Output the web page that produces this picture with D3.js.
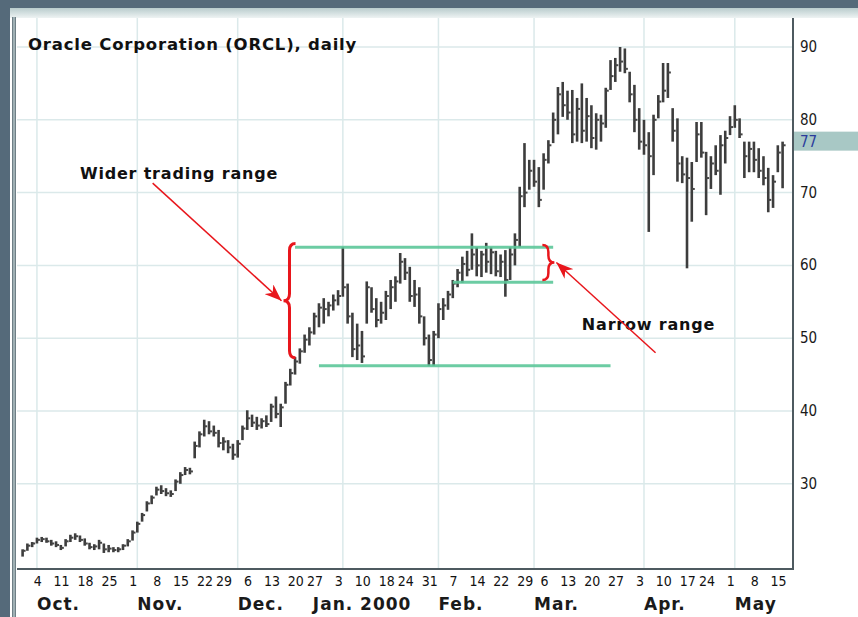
<!DOCTYPE html>
<meta charset="utf-8" />
<style>
  body { margin: 0; background: #556a7a; }
  svg { display: block; }
</style>
<svg width="858" height="617"></svg>
<script src="https://d3js.org/d3.v7.min.js"></script>
<script>
    // ---- data ----
    var startDay = "1999-09-28";
    var endDay = "2000-05-15";
    var holidays = ["1999-11-25", "1999-12-24", "2000-01-17", "2000-02-21", "2000-04-21"];

    var lows = [
        20.0, 20.8, 21.3, 21.8, 22.0, 21.9, 21.5, 21.3, 20.9, 21.4,
        22.0, 22.3, 22.0, 21.5, 21.0, 20.9, 21.0, 20.5, 20.6, 20.6,
        20.6, 20.9, 21.4, 22.2, 23.3, 24.8, 26.2, 27.2, 28.4, 28.6,
        28.3, 28.2, 29.0, 30.0, 31.2, 31.3, 33.5, 35.0, 36.5, 36.8,
        36.5, 35.0, 34.6, 34.2, 33.3, 33.6, 36.0, 37.4, 37.8, 37.4,
        37.6, 37.8, 38.5, 39.0, 37.8, 41.0, 43.5, 45.0, 46.5, 48.0,
        49.0, 50.5, 51.5, 52.0, 53.0, 53.8, 54.5, 55.7, 52.0, 47.4,
        47.0, 46.6, 52.0, 53.5, 51.5, 52.0, 52.5, 54.0, 55.0, 57.5,
        58.0, 55.0, 54.3, 52.0, 49.0, 46.2, 46.2, 50.0, 52.5, 53.9,
        55.5, 57.0, 57.6, 58.5, 59.4, 58.5, 58.4, 59.0, 58.8, 58.5,
        58.4, 55.7, 58.0, 60.0, 62.5, 68.0, 70.4, 70.8, 68.0, 70.4,
        74.0, 76.8, 78.0, 80.4, 80.0, 76.8, 77.0, 76.8, 77.0, 76.1,
        75.9, 77.0, 78.9, 84.1, 85.2, 86.6, 86.4, 82.4, 78.3, 75.9,
        75.2, 64.6, 72.4, 80.2, 82.4, 83.0, 77.0, 71.5, 71.3, 59.6,
        66.0, 74.2, 74.8, 66.9, 70.5, 72.4, 69.7, 74.0, 77.9, 78.9,
        77.5, 72.0, 72.8, 72.8, 72.0, 71.0, 67.3, 67.9, 72.8, 70.6
    ];
    var highs = [
        21.0, 21.8, 22.0, 22.6, 22.7, 22.6, 22.3, 22.1, 21.6, 22.4,
        23.0, 23.2, 22.9, 22.5, 21.9, 21.7, 22.3, 21.8, 21.6, 21.3,
        21.3, 21.7, 22.4, 23.6, 24.8, 26.0, 27.6, 28.4, 29.6, 29.8,
        29.4, 29.1, 30.6, 31.6, 32.3, 32.2, 35.8, 37.2, 38.8, 38.6,
        38.0, 37.4, 36.4, 36.0, 35.5, 36.0, 38.0, 40.1, 39.5, 39.2,
        39.0, 39.4, 41.0, 42.0, 41.0, 44.0, 45.8, 47.4, 48.6, 50.5,
        51.5, 53.5, 54.8, 55.5, 55.0, 56.0, 56.6, 62.5, 57.5, 53.5,
        52.0, 51.0, 57.8, 57.0, 55.5, 55.0, 56.5, 58.0, 58.5, 61.7,
        61.0, 59.8, 58.0, 57.0, 53.0, 50.5, 51.0, 54.8, 55.5, 56.5,
        58.0, 59.5, 61.2, 62.0, 64.4, 62.5, 62.0, 63.1, 62.5, 62.0,
        61.5, 62.1, 62.5, 64.4, 70.8, 76.8, 74.5, 74.5, 73.5, 75.4,
        77.2, 81.0, 84.5, 85.2, 84.0, 84.1, 83.0, 85.0, 83.0, 82.0,
        80.9, 80.7, 84.4, 88.2, 88.5, 90.0, 89.8, 86.6, 84.8, 81.6,
        80.0, 78.3, 80.7, 83.4, 87.8, 87.8, 81.6, 80.2, 75.0, 74.8,
        74.2, 79.7, 79.7, 75.6, 75.0, 76.5, 77.9, 78.5, 80.5, 82.0,
        80.2, 77.0, 77.0, 77.0, 76.1, 75.0, 73.4, 72.4, 76.5, 77.0
    ];
    var closes = [
        20.8, 21.5, 21.8, 22.3, 22.4, 22.1, 21.8, 21.6, 21.2, 22.1,
        22.6, 22.8, 22.3, 21.8, 21.3, 21.4, 21.9, 21.0, 21.1, 20.9,
        21.0, 21.5, 22.1, 23.3, 24.5, 25.7, 27.3, 28.1, 29.2, 29.0,
        28.7, 28.6, 30.3, 31.2, 31.9, 31.7, 35.2, 36.8, 37.9, 37.2,
        37.0, 35.6, 35.8, 35.0, 34.0, 35.5, 37.6, 39.0, 38.4, 38.0,
        38.6, 38.2, 40.6, 39.6, 40.5, 43.6, 45.2, 46.8, 48.2, 49.8,
        50.8, 53.0, 54.2, 54.0, 54.5, 55.2, 55.8, 57.0, 53.0, 48.5,
        49.0, 47.5, 57.0, 54.0, 52.5, 53.5, 55.8, 57.0, 57.8, 60.5,
        59.0, 55.8, 56.0, 53.0, 50.0, 47.0, 50.5, 54.0, 54.5, 56.0,
        57.5, 59.0, 60.2, 59.4, 61.5, 60.0, 61.5, 60.5, 61.8, 59.2,
        60.5, 58.0, 61.5, 63.5, 69.5, 70.0, 73.0, 71.5, 69.0, 74.5,
        76.5, 80.0, 83.5, 82.0, 81.0, 78.0, 81.5, 78.5, 80.5, 77.5,
        80.0, 79.5, 84.0, 86.0, 87.5, 88.0, 87.0, 83.5, 80.0, 77.0,
        76.5, 75.0, 80.0, 82.5, 84.0, 86.5, 78.5, 74.0, 72.5, 72.0,
        70.5, 78.0, 75.5, 72.0, 74.0, 73.0, 76.5, 77.5, 79.0, 80.0,
        78.0, 75.0, 76.0, 74.5, 73.0, 72.0, 69.0, 71.5, 75.5, 76.5
    ];

    var yTicks = [30, 40, 50, 60, 70, 80, 90];
    var lastPrice = 77;

    var weekTicks = [
        "1999-10-04", "1999-10-11", "1999-10-18", "1999-10-25", "1999-11-01", "1999-11-08",
        "1999-11-15", "1999-11-22", "1999-11-29", "1999-12-06", "1999-12-13", "1999-12-20",
        "1999-12-27", "2000-01-03", "2000-01-10", "2000-01-18", "2000-01-24", "2000-01-31",
        "2000-02-07", "2000-02-14", "2000-02-22", "2000-02-29", "2000-03-06", "2000-03-13",
        "2000-03-20", "2000-03-27", "2000-04-03", "2000-04-10", "2000-04-17", "2000-04-24",
        "2000-05-01", "2000-05-08", "2000-05-15"
    ];
    var monthStarts = ["1999-10-01", "1999-11-01", "1999-12-01", "2000-01-03", "2000-02-01",
                       "2000-03-01", "2000-04-03", "2000-05-01"];
    var monthLabels = ["Oct.", "Nov.", "Dec.", "Jan. 2000", "Feb.", "Mar.", "Apr.", "May"];

    // support / resistance lines: price level, from day, to day
    var rangeLines = [
        { level: 62.5, from: "1999-12-17", to: "2000-03-07" },
        { level: 57.7, from: "2000-02-04", to: "2000-03-07" },
        { level: 46.2, from: "1999-12-27", to: "2000-03-23" }
    ];

    // ---- trading calendar ----
    var fmt = d3.timeFormat("%Y-%m-%d");
    var parse = d3.timeParse("%Y-%m-%d");
    var days = d3.timeDay.range(parse(startDay), d3.timeDay.offset(parse(endDay), 1))
        .filter(function(d) { return d.getDay() > 0 && d.getDay() < 6 && holidays.indexOf(fmt(d)) < 0; })
        .map(fmt);
    function idx(s) { return days.indexOf(s); }

    var bars = days.map(function(d, i) {
        return { day: d, i: i, low: lows[i], high: highs[i], close: closes[i] };
    });

    // ---- layout ----
    var svg = d3.select("svg");
    var width = +svg.attr("width");
    var height = +svg.attr("height");
    var plot = { left: 17, right: 793, top: 18, bottom: 569 };

    var x = d3.scaleLinear().domain([0, days.length - 1]).range([22.6, 782.6]);
    var y = d3.scaleLinear().domain([20, 90]).range([556.6, 47]);

    // frame
    svg.append("rect").attr("x", 10).attr("y", 8).attr("width", width - 10).attr("height", height - 8)
        .attr("fill", "#ffffff");
    var grad = svg.append("defs").append("linearGradient").attr("id", "topband")
        .attr("x1", 0).attr("y1", 0).attr("x2", 0).attr("y2", 1);
    grad.append("stop").attr("offset", "0%").attr("stop-color", "#b9cccd");
    grad.append("stop").attr("offset", "100%").attr("stop-color", "#eef3f3");
    svg.append("rect").attr("x", 10).attr("y", 8).attr("width", width - 10).attr("height", 10)
        .attr("fill", "url(#topband)");
    svg.append("rect").attr("x", 12).attr("y", 17).attr("width", 4).attr("height", height - 17)
        .attr("fill", "#6f7f86");
    svg.append("rect").attr("x", 13).attr("y", 17).attr("width", 2).attr("height", height - 17)
        .attr("fill", "#9fb0b4");

    // grid
    svg.append("g").selectAll("line").data(yTicks).enter().append("line")
        .attr("x1", plot.left).attr("x2", plot.right)
        .attr("y1", function(d) { return y(d); }).attr("y2", function(d) { return y(d); })
        .attr("stroke", "#dbe9ea").attr("stroke-width", 1.5);
    svg.append("g").selectAll("line").data(monthStarts).enter().append("line")
        .attr("x1", function(d) { return x(idx(d)); }).attr("x2", function(d) { return x(idx(d)); })
        .attr("y1", plot.top).attr("y2", plot.bottom)
        .attr("stroke", "#dbe9ea").attr("stroke-width", 1.5);

    // last price band
    svg.append("rect").attr("x", plot.right).attr("y", y(lastPrice) - 10)
        .attr("width", width - plot.right).attr("height", 19).attr("fill", "#a8c8c5");

    // price bars
    var barG = svg.append("g");
    barG.selectAll("line.hl").data(bars).enter().append("line")
        .attr("class", "hl")
        .attr("x1", function(d) { return x(d.i); }).attr("x2", function(d) { return x(d.i); })
        .attr("y1", function(d) { return y(d.high); }).attr("y2", function(d) { return y(d.low); })
        .attr("stroke", "#3d3d3d").attr("stroke-width", 2.6);
    barG.selectAll("line.cl").data(bars).enter().append("line")
        .attr("class", "cl")
        .attr("x1", function(d) { return x(d.i); }).attr("x2", function(d) { return x(d.i) + 3; })
        .attr("y1", function(d) { return y(d.close); }).attr("y2", function(d) { return y(d.close); })
        .attr("stroke", "#444").attr("stroke-width", 2);

    // range lines
    svg.append("g").selectAll("line").data(rangeLines).enter().append("line")
        .attr("x1", function(d) { return x(idx(d.from)); }).attr("x2", function(d) { return x(idx(d.to)); })
        .attr("y1", function(d) { return y(d.level); }).attr("y2", function(d) { return y(d.level); })
        .attr("stroke", "#5cc699").attr("stroke-width", 3).attr("stroke-opacity", 0.9);

    // axes lines
    svg.append("line").attr("x1", plot.right).attr("x2", plot.right).attr("y1", plot.top).attr("y2", plot.bottom + 1)
        .attr("stroke", "#4e5a60").attr("stroke-width", 2);
    svg.append("line").attr("x1", plot.left).attr("x2", plot.right).attr("y1", plot.bottom).attr("y2", plot.bottom)
        .attr("stroke", "#4e5a60").attr("stroke-width", 2);

    var narrow = "'Liberation Sans Narrow', 'Arial Narrow', 'DejaVu Sans Condensed', sans-serif";
    var sans = "'DejaVu Sans', Verdana, sans-serif";

    // y labels
    svg.append("g").selectAll("text").data(yTicks).enter().append("text")
        .attr("x", plot.right + 7).attr("y", function(d) { return y(d) + 5; })
        .attr("font-family", narrow).attr("font-size", 15).attr("fill", "#1a1a1a")
        .text(function(d) { return d; });
    svg.append("text").attr("x", plot.right + 7).attr("y", y(lastPrice) + 5)
        .attr("font-family", narrow).attr("font-size", 15).attr("fill", "#2a3b9c")
        .text(lastPrice);

    // week labels
    svg.append("g").selectAll("text").data(weekTicks).enter().append("text")
        .attr("x", function(d) { return x(idx(d)) - 4; }).attr("y", 586)
        .attr("text-anchor", "middle")
        .attr("font-family", narrow).attr("font-size", 14).attr("fill", "#111")
        .text(function(d) { return +d.slice(8); });

    // month labels
    svg.append("g").selectAll("text").data(monthStarts).enter().append("text")
        .attr("x", function(d, i) { return x(idx(d)) - (monthLabels[i].length > 4 ? 30 : 0); })
        .attr("y", 610)
        .attr("font-family", sans).attr("font-size", 17).attr("letter-spacing", 1)
        .attr("font-weight", "bold").attr("fill", "#1a1a1a")
        .text(function(d, i) { return monthLabels[i]; });

    // title
    svg.append("text").attr("x", 28).attr("y", 50)
        .attr("font-family", sans).attr("font-size", 16.5).attr("letter-spacing", 0.8)
        .attr("font-weight", "bold").attr("fill", "#111")
        .text("Oracle Corporation (ORCL), daily");

    // ---- annotations ----
    var red = "#e8161c";
    svg.append("defs").append("marker").attr("id", "head")
        .attr("viewBox", "0 0 10 10").attr("refX", 10).attr("refY", 5)
        .attr("markerWidth", 17).attr("markerHeight", 13).attr("orient", "auto")
        .attr("markerUnits", "userSpaceOnUse").attr("preserveAspectRatio", "none")
        .append("path").attr("d", "M0,0 L10,5 L0,10 L3,5 Z").attr("fill", red);

    function brace(xs, yTop, yBot, dir) {
        // dir -1: "{" tip to the left, +1: "}" tip to the right
        var w = 6 * dir, ym = (yTop + yBot) / 2;
        var p = d3.path();
        p.moveTo(xs - w, yTop);
        p.quadraticCurveTo(xs, yTop, xs, yTop + 7);
        p.lineTo(xs, ym - 7);
        p.quadraticCurveTo(xs, ym, xs + w, ym);
        p.quadraticCurveTo(xs, ym, xs, ym + 7);
        p.lineTo(xs, yBot - 7);
        p.quadraticCurveTo(xs, yBot, xs - w, yBot);
        return p.toString();
    }
    var wideTop = 63.0, wideBot = 47.3, narrowTop = 62.8, narrowBot = 58.0;
    var wideX = x(idx("1999-12-15")) + 4, narrowX = x(idx("2000-03-06"));
    svg.append("path").attr("d", brace(wideX, y(wideTop), y(wideBot), -1))
        .attr("fill", "none").attr("stroke", red).attr("stroke-width", 3);
    svg.append("path").attr("d", brace(narrowX, y(narrowTop), y(narrowBot), 1))
        .attr("fill", "none").attr("stroke", red).attr("stroke-width", 2.5);

    svg.append("text").attr("x", x(idx("1999-10-14"))).attr("y", y(71.8))
        .attr("font-family", sans).attr("font-size", 16).attr("letter-spacing", 0.8)
        .attr("font-weight", "bold").attr("fill", "#111")
        .text("Wider trading range");
    svg.append("text").attr("x", x(idx("2000-03-15"))).attr("y", y(51.1))
        .attr("font-family", sans).attr("font-size", 16).attr("letter-spacing", 0.8)
        .attr("font-weight", "bold").attr("fill", "#111")
        .text("Narrow range");

    svg.append("line")
        .attr("x1", x(idx("1999-11-04")) + 1).attr("y1", y(71.3))
        .attr("x2", wideX - 8).attr("y2", y((wideTop + wideBot) / 2))
        .attr("stroke", red).attr("stroke-width", 1.5).attr("marker-end", "url(#head)");
    svg.append("line")
        .attr("x1", x(idx("2000-04-05")) + 2).attr("y1", y(48.0))
        .attr("x2", narrowX + 8).attr("y2", y((narrowTop + narrowBot) / 2))
        .attr("stroke", red).attr("stroke-width", 1.5).attr("marker-end", "url(#head)");
</script>
